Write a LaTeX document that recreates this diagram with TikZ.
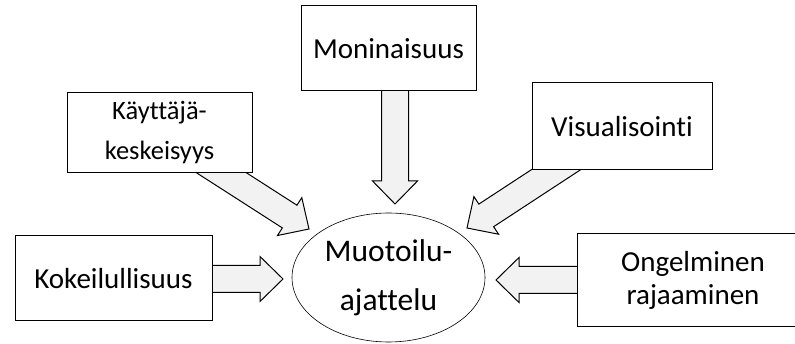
\documentclass[tikz,border=0pt]{standalone}
\usepackage{fontspec}
\setmainfont{Carlito}[Ligatures=NoCommon]
\usetikzlibrary{calc,backgrounds,shapes.geometric}
\definecolor{arrowgrey}{HTML}{F2F2F2}
\tikzset{
  box/.style={draw=black, fill=white, line width=1pt, inner sep=0pt, align=center},
  thinkbubble/.style={ellipse, draw=black, fill=white, line width=0.6pt, inner sep=0pt,
    minimum width=193pt, minimum height=129pt, align=center},
  blockarrow/.style={draw=black, fill=arrowgrey, line width=1pt, line join=miter},
  labelfont/.style={font=\fontsize{29}{35}\selectfont}
}
% wide block arrow from #1 to the tip #2
\newcommand\blockarrow[2]{%
  \draw[blockarrow]
    ($(#1)!13.5pt!90:(#2)$) --
    ($(#2)!23pt!(#1)!13.5pt!90:(#2)$) --
    ($(#2)!23pt!(#1)!22.5pt!90:(#2)$) --
    (#2) --
    ($(#2)!23pt!(#1)!22.5pt!-90:(#2)$) --
    ($(#2)!23pt!(#1)!13.5pt!-90:(#2)$) --
    ($(#1)!13.5pt!-90:(#2)$) -- cycle;}
\begin{document}
\begin{tikzpicture}[x=1pt, y=-1pt]
\useasboundingbox (0,0) rectangle (795,344);

% concept boxes
\node[box, labelfont, minimum width=175pt, minimum height=85pt] (mon) at (388.5,48.5) {Moninaisuus};
\node[box, font=\fontsize{26.5}{40}\selectfont, minimum width=185pt, minimum height=80pt] (kay) at (159.5,133) {Käyttäjä-\\keskeisyys};
\node[box, labelfont, minimum width=180pt, minimum height=87pt] (vis) at (622,126.5) {Visualisointi};
\node[box, labelfont, minimum width=197pt, minimum height=85pt] (kok) at (113.5,278.5) {Kokeilullisuus};
\node[box, labelfont, minimum width=232pt, minimum height=93pt] (ong) at (693,280.5) {Ongelminen\\[-2pt]rajaaminen};

% central idea
\node[thinkbubble, font=\fontsize{31.5}{49}\selectfont] (mt) at (388.5,277.5) {Muotoilu-\\ajattelu};

% arrow tips
\coordinate (monT) at (395,204);
\coordinate (kayT) at (309,229);
\coordinate (visT) at (467,228);
\coordinate (kokT) at (283,279);
\coordinate (ongT) at (496,280);

\begin{pgfonlayer}{background}
  \blockarrow{monT |- mon.center}{monT}
  \blockarrow{kay.center}{kayT}
  \blockarrow{vis.center}{visT}
  \blockarrow{kokT -| kok.center}{kokT}
  \blockarrow{ongT -| ong.center}{ongT}
\end{pgfonlayer}
\end{tikzpicture}
\end{document}
